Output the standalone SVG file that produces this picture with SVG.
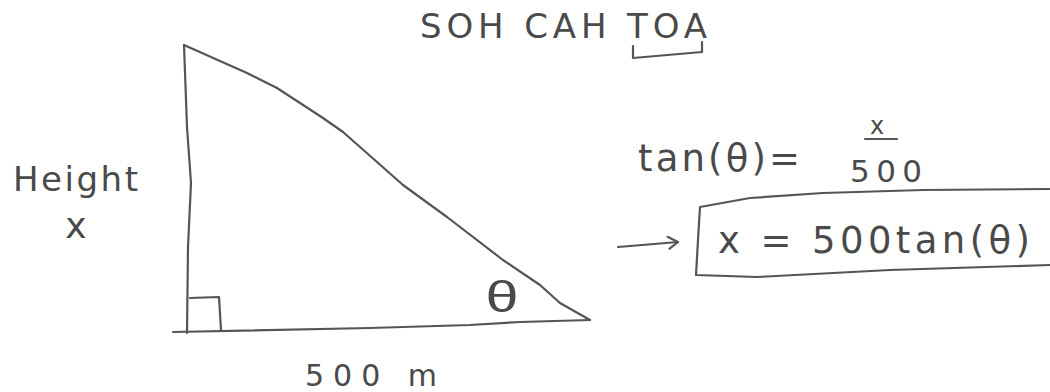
<svg xmlns="http://www.w3.org/2000/svg" width="1050" height="392" viewBox="0 0 1050 392">
  <style>
    .ink { fill: none; stroke: #555; stroke-width: 2.2; stroke-linecap: round; stroke-linejoin: round; }
    .txt { fill: #4a4a4a; font-family: "DejaVu Sans", "Liberation Sans", sans-serif; }
    .th { fill: #4a4a4a; font-family: "Liberation Sans", "DejaVu Sans", sans-serif; }
  </style>
  <defs>
    <marker id="chev" viewBox="0 0 12 14" refX="11" refY="7" markerWidth="12" markerHeight="14" markerUnits="userSpaceOnUse" orient="auto">
      <path d="M1,1 L11,7 L2,13" fill="none" stroke="#555" stroke-width="2.2" stroke-linecap="round" stroke-linejoin="round"/>
    </marker>
  </defs>
  <rect width="1050" height="392" fill="#fff"/>

  <g id="title">
    <text class="txt" x="420" y="38" font-size="34" textLength="287" lengthAdjust="spacing">SOH CAH TOA</text>
    <path class="ink" d="M633,46 L633,58 L702,52 L702,42"/>
  </g>

  <g id="triangle">
    <path class="ink" d="M184,45 L187,127 L191,183 L188,247 L187,333"/>
    <path class="ink" d="M173,332 L370,328 L470,325 L520,322 L590,320"/>
    <path class="ink" d="M184,45 L247,73 L277,88 L323,118 L343,132 L403,185 L447,217 L503,260 L540,285 L560,303 L590,320"/>
    <path class="ink" d="M190,298 L219,297 L221,330"/>
    <text class="th" x="0" y="0" font-size="44" text-anchor="middle" transform="translate(502,312) scale(1.35,1)">θ</text>
  </g>

  <g id="height-label">
    <text class="txt" x="13" y="191" font-size="34" textLength="125" lengthAdjust="spacing">Height</text>
    <text class="txt" x="76" y="238" font-size="36" text-anchor="middle">x</text>
  </g>

  <g id="base-label">
    <text class="txt" x="305" y="386" font-size="30" textLength="132" lengthAdjust="spacing">500 m</text>
  </g>

  <g id="tan-equation">
    <text class="txt" x="638" y="171" font-size="37" textLength="162" lengthAdjust="spacing">tan(θ)=</text>
    <text class="txt" x="877" y="134" font-size="24" text-anchor="middle">x</text>
    <path class="ink" d="M865,139 L897,139"/>
    <text class="txt" x="850" y="182" font-size="31" textLength="72" lengthAdjust="spacing">500</text>
  </g>

  <g id="result-box">
    <path class="ink" d="M1050,189 L923,190 L823,193 L750,198 L700,207 L698,240 L696,275 L757,277 L890,270 L1050,265"/>
    <text class="txt" x="718" y="253" font-size="37" textLength="312" lengthAdjust="spacing">x = 500tan(θ)</text>
  </g>

  <g id="connectors">
    <path class="ink" d="M618,247 L678,242" marker-end="url(#chev)"/>
  </g>
</svg>
